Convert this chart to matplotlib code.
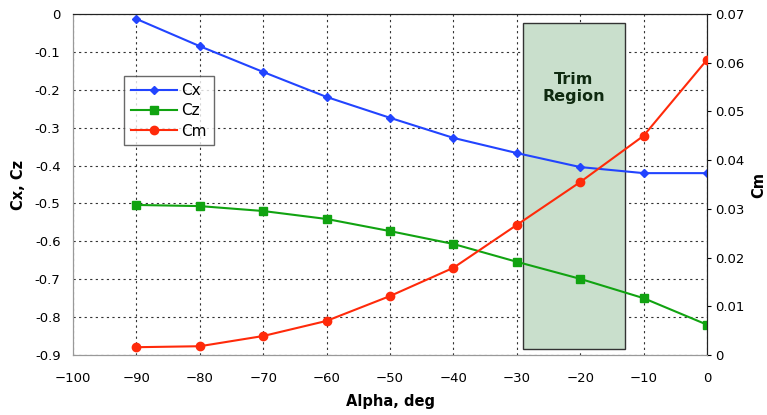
import matplotlib.pyplot as plt
from matplotlib.patches import Rectangle

alpha = [-90, -80, -70, -60, -50, -40, -30, -20, -10, 0]
cx = [-0.013, -0.085, -0.153, -0.219, -0.274, -0.327, -0.367, -0.404, -0.420, -0.420]
cz = [-0.504, -0.507, -0.520, -0.541, -0.573, -0.607, -0.654, -0.699, -0.750, -0.820]
cm = [0.0016, 0.0018, 0.0039, 0.0070, 0.0121, 0.0179, 0.0267, 0.0355, 0.0450, 0.0606]

trim_lo, trim_hi = -29, -13

plt.rcParams['font.family'] = 'DejaVu Sans'
fig = plt.figure(figsize=(7.67, 4.15), dpi=100)
ax = fig.add_axes([73 / 767, 1 - 355 / 415, 634 / 767, 341 / 415])

ax.set_xlim(-100, 0)
ax.set_ylim(-0.9, 0)
ax.set_xticks(range(-100, 1, 10))
ax.set_yticks([i / 10 for i in range(-9, 1)])
ax.set_yticklabels(['-0.9', '-0.8', '-0.7', '-0.6', '-0.5', '-0.4', '-0.3', '-0.2', '-0.1', '0'])
ax.grid(True, color='#333333', linestyle=(0, (2, 3)), linewidth=0.8)
ax.tick_params(axis='y', length=0, labelsize=9.5, pad=9)
ax.tick_params(axis='x', length=0, labelsize=9.5, pad=12)

# trim box
ax.add_patch(Rectangle((trim_lo, -0.885), trim_hi - trim_lo, 0.862,
                       facecolor='#c9dfcc', edgecolor='#333333', linewidth=1.0, zorder=2))
ax.text((trim_lo + trim_hi) / 2, -0.195, 'Trim\nRegion', ha='center', va='center',
        fontsize=11.5, fontweight='bold', color='#0f2a10', linespacing=1.15, zorder=3)

l1, = ax.plot(alpha, cx, color='#2244ff', marker='D', markersize=4, linewidth=1.5, label='Cx', zorder=4)
l2, = ax.plot(alpha, cz, color='#11a311', marker='s', markersize=5.5, linewidth=1.5, label='Cz', zorder=4)

ax2 = ax.twinx()
ax2.set_ylim(0, 0.07)
ax2.set_yticks([i / 100 for i in range(0, 8)])
ax2.set_yticklabels(['0', '0.01', '0.02', '0.03', '0.04', '0.05', '0.06', '0.07'])
ax2.tick_params(length=3, labelsize=9.5, direction='out', pad=3)
l3, = ax2.plot(alpha, cm, color='#ff2a0a', marker='o', markersize=6, linewidth=1.5, label='Cm', zorder=4)

for a in (ax, ax2):
    a.spines['left'].set_color('#999999')
    a.spines['bottom'].set_color('#999999')
    a.spines['top'].set_color('#222222')
    a.spines['right'].set_color('#222222')

ax.set_xlabel('Alpha, deg', fontweight='bold', fontsize=10.5, labelpad=7)
ax.set_ylabel('Cx, Cz', fontweight='bold', fontsize=10.5, labelpad=6)
ax2.set_ylabel('Cm', fontweight='bold', fontsize=10.5, labelpad=5)

leg = ax2.legend(handles=[l1, l2, l3], loc='upper left', bbox_to_anchor=(51 / 634, 1 - 62 / 341),
                 fontsize=11, frameon=True, fancybox=False, handlelength=3.0,
                 borderpad=0.45, labelspacing=0.35, handletextpad=0.3, borderaxespad=0)
leg.get_frame().set_edgecolor('#444444')
leg.get_frame().set_linewidth(1.0)

fig.savefig('out.png', dpi=100)
